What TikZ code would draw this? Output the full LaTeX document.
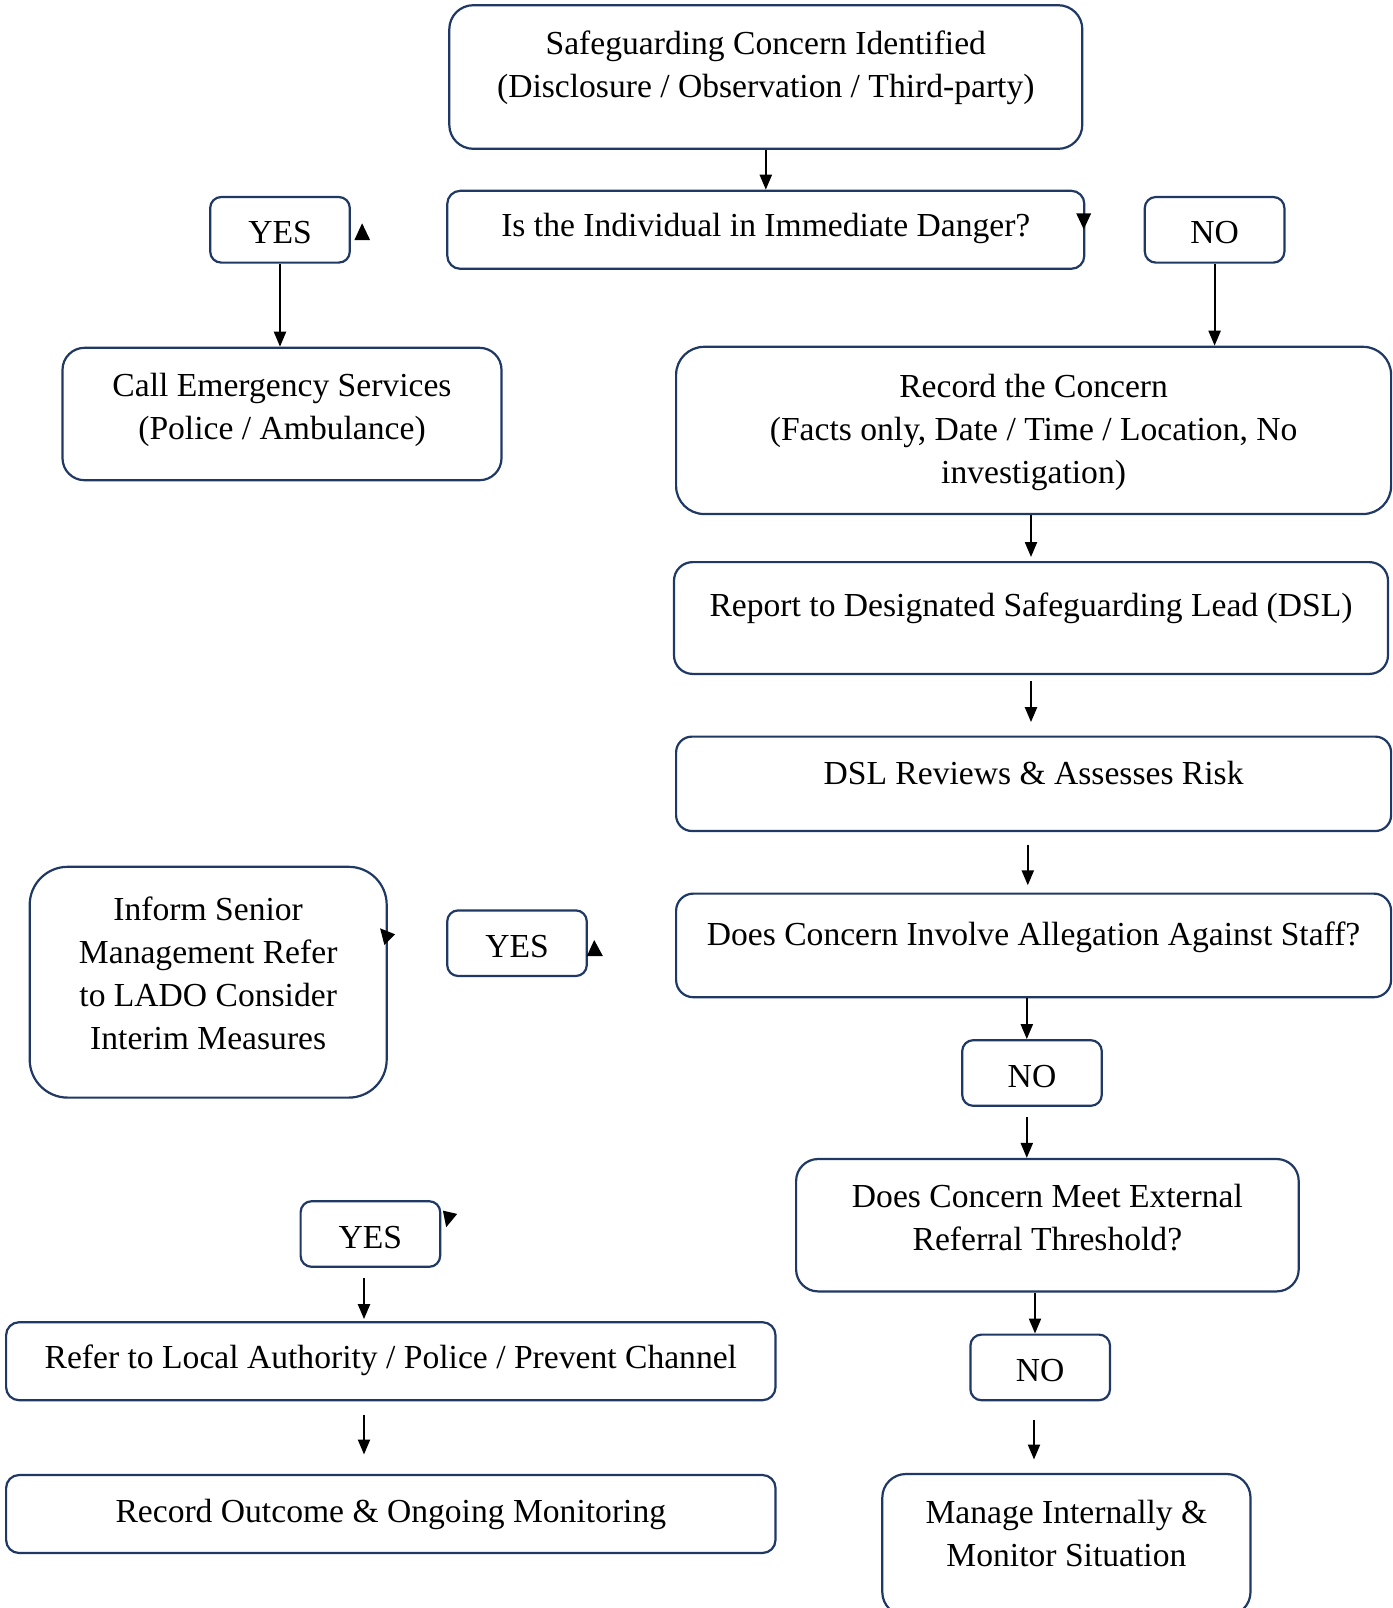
\documentclass[tikz,border=0pt]{standalone}
\usepackage{fontspec}
\setmainfont{Liberation Serif}
\usepackage[dvipsnames]{xcolor}
\usetikzlibrary{arrows.meta,positioning}
\definecolor{boxblue}{HTML}{1F3864}

\begin{document}
\begin{tikzpicture}[->,>={Triangle[width=6pt,length=7.5pt]},line width=1.1pt,
    main node/.style={draw=boxblue,fill=white,line width=1.1pt,rounded corners=#1,align=center,inner sep=0pt,
        font=\fontsize{16.8}{21.5}\selectfont,
        execute at begin node={\rule{0pt}{18pt}},execute at end node={\rule[-4pt]{0pt}{4pt}}},
    main node/.default=6pt,
    textdrop/.style={execute at end node={\rule[-#1]{0pt}{#1}}},
    answer/.style={main node=5.5pt,minimum width=69.8pt,minimum height=32.8pt},
    tip/.style={-,fill=black,draw=none}]

    \useasboundingbox (0,0) rectangle (696.5pt,-804pt);

    % first question
    \node[main node=12pt, minimum width=316.5pt, minimum height=71.8pt, textdrop=13.3pt] (concern) at (382.9pt,-38.5pt)
        {Safeguarding Concern Identified\\(Disclosure / Observation / Third-party)};
    \node[main node=6.5pt, minimum width=318.5pt, minimum height=39pt, textdrop=11pt] (danger) [below of = concern, node distance=76.4pt]
        {Is the Individual in Immediate Danger?};
    \node[answer] (yes1) [left of = danger, node distance=242.9pt] {YES};
    \node[answer] (no1) [right of = danger, node distance=224.4pt] {NO};
    \node[main node=11pt, minimum width=219.5pt, minimum height=66.2pt, textdrop=7.7pt] (call) [below of = yes1, node distance=92.1pt, xshift=1pt]
        {Call Emergency Services\\(Police / Ambulance)};

    % right column
    \node[main node=14pt, minimum width=357.5pt, minimum height=83.6pt] (record) at (516.8pt,-215.2pt)
        {\rule{0pt}{14.5pt}Record the Concern\\(Facts only, Date / Time / Location, No\\investigation)};
    \node[main node=9.3pt, minimum width=357pt, minimum height=55.9pt, textdrop=19.8pt] (report) [below of = record, node distance=93.8pt, xshift=-1.3pt]
        {Report to Designated Safeguarding Lead (DSL)};
    \node[main node=7.9pt, minimum width=357.5pt, minimum height=47.2pt, textdrop=17.8pt] (review) [below of = report, node distance=82.9pt, xshift=1.3pt]
        {DSL Reviews \& Assesses Risk};
    \node[main node=8.6pt, minimum width=357.5pt, minimum height=51.8pt, textdrop=18.3pt] (staff) [below of = review, node distance=80.8pt]
        {Does Concern Involve Allegation Against Staff?};
    \node[answer] (yes2) [left of = staff, node distance=258.3pt, yshift=1.1pt] {YES};
    \node[main node=19pt, minimum width=178.5pt, minimum height=115.4pt, textdrop=8.7pt] (inform) at (104.1pt,-491.1pt)
        {Inform Senior\\Management Refer\\to LADO Consider\\Interim Measures};
    \node[answer] (no2) [below of = staff, node distance=63.8pt, xshift=-0.8pt] {NO};
    \node[main node=11pt, minimum width=251.3pt, minimum height=66.2pt, textdrop=7.7pt] (threshold) [below of = no2, node distance=76.1pt, xshift=7.7pt]
        {Does Concern Meet External\\Referral Threshold?};
    \node[answer] (no3) [below of = threshold, node distance=71.1pt, xshift=-3.6pt] {NO};
    \node[main node=11.8pt, minimum width=184.1pt, minimum height=70.8pt, textdrop=11pt] (manage) [below of = no3, node distance=88.7pt, xshift=13.1pt]
        {Manage Internally \&\\Monitor Situation};

    % left bottom
    \node[main node=6.5pt, minimum width=384.7pt, minimum height=39pt, textdrop=11pt] (refer) at (195.4pt,-680.6pt)
        {Refer to Local Authority / Police / Prevent Channel};
    \node[main node=6.5pt, minimum width=384.7pt, minimum height=39pt, textdrop=10pt] (outcome) [below of = refer, node distance=76.4pt]
        {Record Outcome \& Ongoing Monitoring};
    \node[answer] (yes3) [above of = refer, node distance=63.6pt, xshift=-10.2pt] {YES};

    \draw (concern) -- (danger);
    \draw (yes1) -- (yes1 |- call.north);
    \draw (no1) -- (no1 |- record.north);
    \draw[shorten >=2pt] (record.south -| report.north) -- (report.north);
    \draw[shorten <=3pt, shorten >=6.7pt] (report.south) -- (report.south |- review.north);
    \draw[shorten <=6.2pt, shorten >=3.6pt] ([xshift=-2.9pt]review.south) -- ([xshift=-2.9pt]review.south |- staff.north);
    \draw ([xshift=-2.6pt]no2.north |- staff.south) -- ([xshift=-2.6pt]no2.north);
    \draw[shorten <=5.1pt] ([xshift=-2.6pt]no2.south) -- ([xshift=-2.6pt]no2.south |- threshold.north);
    \draw ([xshift=-2.6pt]no3.north |- threshold.south) -- ([xshift=-2.6pt]no3.north);
    \draw[shorten <=9.2pt, shorten >=6.7pt] ([xshift=-3.1pt]no3.south) -- ([xshift=-3.1pt]no3.south |- manage.north);
    \draw[shorten <=5.1pt, shorten >=1pt] ([xshift=-3.2pt]yes3.south) -- ([xshift=-3.2pt]yes3.south |- refer.north);
    \draw[shorten <=6.7pt, shorten >=9.7pt] ([xshift=-13.4pt]outcome.north |- refer.south) -- ([xshift=-13.4pt]outcome.north);

    % loose tips
    \fill[tip, shift={(yes1.east)}] (1.75pt,-5.1pt) -- (9.6pt,-5.1pt) -- (5.6pt,3.25pt) -- cycle;
    \fill[tip, shift={(danger.east)}] (-4.6pt,8.25pt) -- (2.9pt,8.25pt) -- (-0.85pt,0.25pt) -- cycle;
    \fill[tip, shift={(inform.east)}] (-3.85pt,26.95pt) -- (3.65pt,23.95pt) -- (-1.7pt,18.6pt) -- cycle;
    \fill[tip, shift={(yes2.east)}] (-0.5pt,-6.4pt) -- (7.5pt,-6.4pt) -- (3.15pt,1.6pt) -- cycle;
    \fill[tip, shift={(yes3.north east)}] (0.8pt,-5.25pt) -- (7.95pt,-6.9pt) -- (2.45pt,-13.55pt) -- cycle;
\end{tikzpicture}
\end{document}
